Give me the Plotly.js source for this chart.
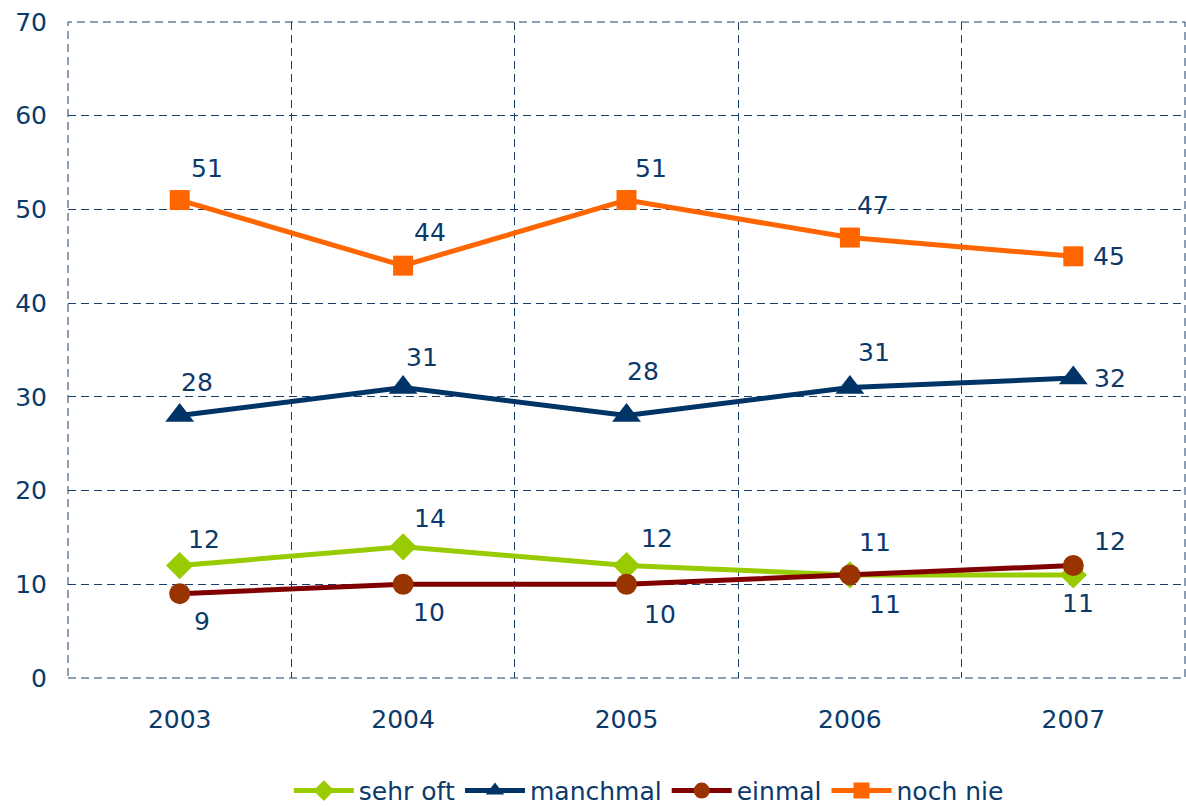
<!DOCTYPE html>
<html>
<head>
<meta charset="utf-8">
<script src="https://cdn.plot.ly/plotly-3.0.1.min.js"></script>
<style>html,body{margin:0;padding:0;background:#fff;}#chart{width:1186px;height:806px;}</style>
</head>
<body>
<div id="chart"></div>
<script>
const years = ['2003', '2004', '2005', '2006', '2007'];
const sehrOft = [12, 14, 12, 11, 11];
const manchmal = [28, 31, 28, 31, 32];
const einmal = [9, 10, 10, 11, 12];
const nochNie = [51, 44, 51, 47, 45];
const yTicks = [0, 10, 20, 30, 40, 50, 60, 70];

const textColor = '#0b3a6a';
const gridColor = '#1a3d6b';
const font = 'DejaVu Sans, Verdana, sans-serif';
const dash = '8px,5px';

const idx = years.map((_, i) => i);

const series = [
  {name: 'sehr oft', y: sehrOft, line: '#99cc00', marker: '#99cc00', symbol: 'diamond', size: 21,
   shift: [[24,-26],[27,-28],[30,-27],[25,-32],[5,29]]},
  {name: 'manchmal', y: manchmal, line: '#003366', marker: '#003366', symbol: 'triangle-up', size: 25,
   shift: [[17,-33],[19,-30],[16,-44],[24,-35],[37,0]]},
  {name: 'einmal', y: einmal, line: '#800000', marker: '#993300', symbol: 'circle', size: 21,
   shift: [[22,28],[26,28],[33,30],[35,30],[37,-24]]},
  {name: 'noch nie', y: nochNie, line: '#ff6600', marker: '#ff6600', symbol: 'square', size: 20,
   shift: [[27,-32],[27,-33],[24,-32],[23,-32],[36,0]]}
];

const traces = series.map(s => ({
  type: 'scatter', mode: 'lines+markers', name: s.name,
  x: idx, y: s.y,
  line: {color: s.line, width: 5},
  marker: {color: s.marker, symbol: s.symbol, size: s.size, line: {width: 0}},
  hoverinfo: 'skip'
}));

const annotations = [];
series.forEach(s => {
  s.y.forEach((v, i) => {
    annotations.push({
      x: i, y: v, xref: 'x', yref: 'y', text: String(v), showarrow: false,
      xshift: s.shift[i][0], yshift: -s.shift[i][1],
      font: {family: font, size: 25, color: textColor}
    });
  });
});

const layout = {
  width: 1186, height: 806,
  margin: {l: 68, r: 1, t: 22, b: 128, autoexpand: false},
  paper_bgcolor: '#ffffff', plot_bgcolor: '#ffffff',
  showlegend: true,
  legend: {orientation: 'h', x: 0.52, xanchor: 'center', y: -0.172, yanchor: 'middle',
           font: {family: font, size: 25, color: textColor}, itemwidth: 60, traceorder: 'normal'},
  xaxis: {
    range: [-0.5, 4.5], tickmode: 'array', tickvals: idx, ticktext: years,
    showgrid: false, zeroline: false, showline: false, ticks: '',
    ticklabelstandoff: 24,
    tickfont: {family: font, size: 25, color: textColor},
    minor: {tickmode: 'linear', tick0: -0.5, dtick: 1, showgrid: true, gridcolor: gridColor, griddash: dash, gridwidth: 1, ticks: ''}
  },
  yaxis: {
    range: [0, 70], tickmode: 'array', tickvals: yTicks,
    showgrid: true, gridcolor: gridColor, griddash: dash, gridwidth: 1,
    zeroline: false, showline: false, ticks: '',
    ticklabelstandoff: 20,
    tickfont: {family: font, size: 25, color: textColor}
  },
  shapes: [{
    type: 'rect', xref: 'paper', yref: 'paper', x0: 0, x1: 1, y0: 0, y1: 1,
    line: {color: gridColor, width: 1, dash: dash}, layer: 'below'
  }],
  annotations: annotations
};

Plotly.newPlot('chart', traces, layout, {displayModeBar: false, staticPlot: true});
</script>
</body>
</html>
